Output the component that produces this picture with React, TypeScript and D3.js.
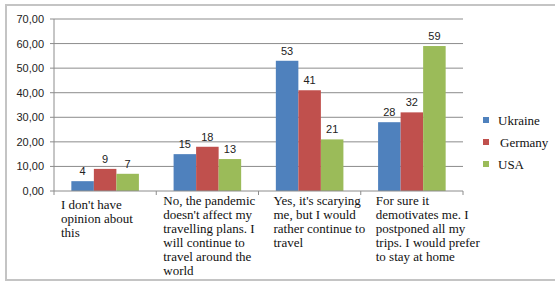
import React from "react";
import * as d3 from "d3";

const categories = [
  ["I don't have", "opinion about", "this"],
  ["No, the pandemic", "doesn't affect my", "travelling plans. I", "will continue to", "travel around the", "world"],
  ["Yes, it's scarying", "me, but I would", "rather continue to", "travel"],
  ["For sure it", "demotivates me. I", "postponed all my", "trips. I would prefer", "to stay at home"],
];
const seriesNames = ["Ukraine", "Germany", "USA"];
const ukraine = [4, 15, 53, 28];
const germany = [9, 18, 41, 32];
const usa = [7, 13, 21, 59];
const yTicks = [0, 10, 20, 30, 40, 50, 60, 70];
const colors = ["#4F81BD", "#C0504D", "#9BBB59"];

export default function App() {
  const W = 555, H = 282;
  const left = 54, right = 463, top = 19, bottom = 191;
  const series = [ukraine, germany, usa];
  const catIdx = categories.map((_, i) => String(i));
  const x0 = d3.scaleBand<string>().domain(catIdx).range([left, right]).paddingInner(0).paddingOuter(0);
  const x1 = d3.scaleBand<string>().domain(seriesNames).range([0, x0.bandwidth()]).paddingInner(0).paddingOuter(0.77);
  const y = d3.scaleLinear().domain([0, 70]).range([bottom, top]);
  const fmt = (v: number) => v.toFixed(2).replace(".", ",");
  const grid = "#8c8c8c";
  return (
    <svg width={W} height={H} style={{ position: "absolute", left: 0, top: 0 }}>
      <rect x={0} y={0} width={W} height={H} fill="#fff" />
      <path d={`M555,5 H6 V280 H555`} fill="none" stroke="#c4c4c4" strokeWidth={2} />
      {yTicks.map((t) => (
        <g key={t}>
          {t > 0 && <line x1={left} x2={right} y1={y(t)} y2={y(t)} stroke={grid} strokeWidth={1} />}
          <line x1={left - 4} x2={left} y1={y(t)} y2={y(t)} stroke={grid} />
          <text x={44} y={y(t) + 4} textAnchor="end" fontFamily="Liberation Sans, Arial, sans-serif" fontSize={11} fill="#222">
            {fmt(t)}
          </text>
        </g>
      ))}
      <line x1={left} x2={left} y1={top} y2={bottom} stroke={grid} />
      {catIdx.map((c, i) => (
        <g key={c}>
          {series.map((s, j) => (
            <g key={j}>
              <rect
                x={x0(c)! + x1(seriesNames[j])!}
                y={y(s[i])}
                width={x1.bandwidth()}
                height={bottom - y(s[i])}
                fill={colors[j]}
              />
              <text
                x={x0(c)! + x1(seriesNames[j])! + x1.bandwidth() / 2}
                y={y(s[i]) - 6}
                textAnchor="middle"
                fontFamily="Liberation Sans, Arial, sans-serif"
                fontSize={11}
                fill="#222"
              >
                {s[i]}
              </text>
            </g>
          ))}
          {categories[i].map((line, k) => (
            <text
              key={k}
              x={x0(c)! + (i < 2 ? 7 : 15)}
              y={(i === 0 ? 209 : 205) + k * 14}
              fontFamily="Liberation Serif, Times New Roman, serif"
              fontSize={13}
              fill="#111"
            >
              {line}
            </text>
          ))}
        </g>
      ))}
      <line x1={left} x2={right} y1={bottom} y2={bottom} stroke={grid} />
      {d3.range(categories.length + 1).map((k) => {
        const xx = left + k * x0.step();
        return <line key={k} x1={xx} x2={xx} y1={bottom} y2={bottom + 4} stroke={grid} />;
      })}
      {seriesNames.map((n, j) => (
        <g key={n}>
          <rect x={483} y={117 + j * 22} width={6} height={6} fill={colors[j]} />
          <text x={498 + (j === 1 ? 2 : 0)} y={125 + j * 22} fontFamily="Liberation Serif, Times New Roman, serif" fontSize={13} fill="#111">
            {n}
          </text>
        </g>
      ))}
    </svg>
  );
}
